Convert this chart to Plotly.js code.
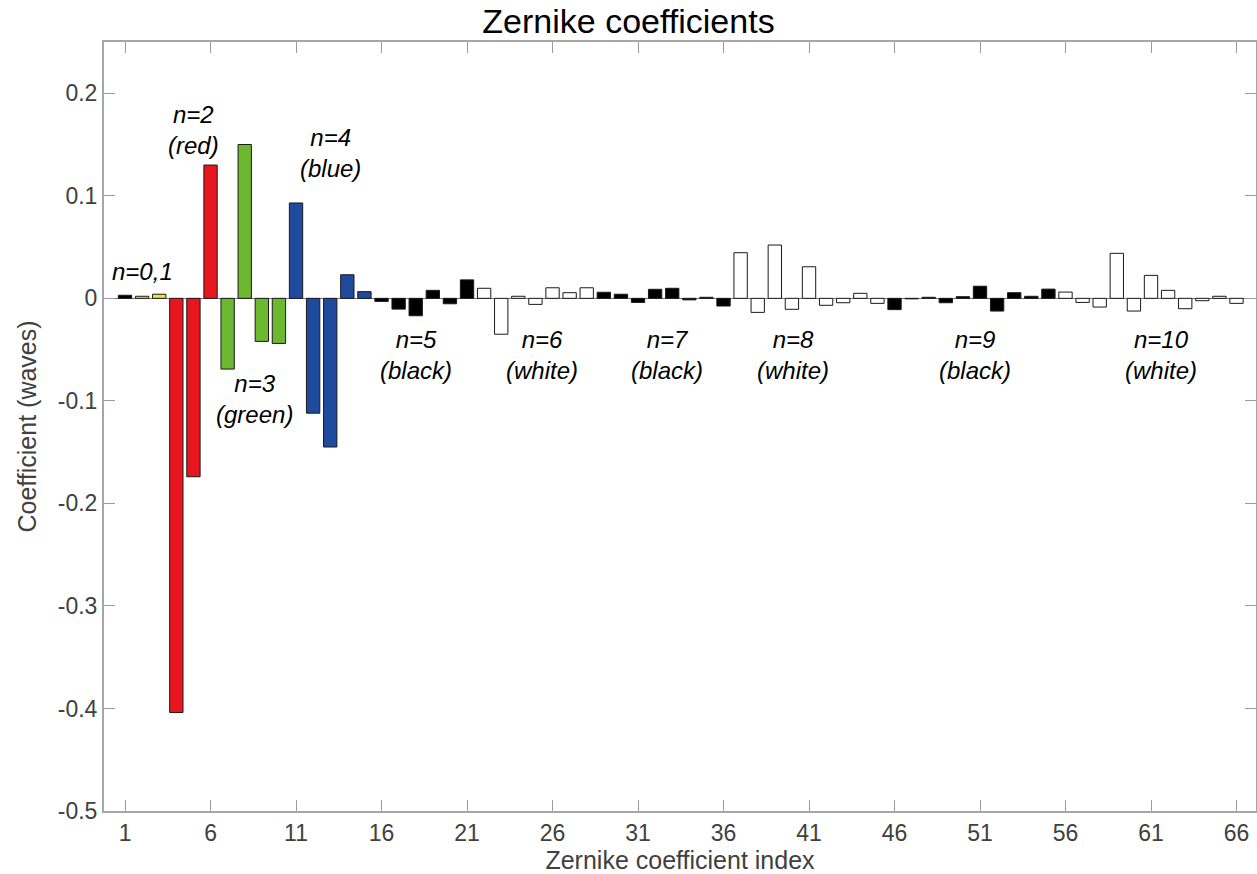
<!DOCTYPE html>
<html>
<head>
<meta charset="utf-8">
<script src="https://cdn.plot.ly/plotly-3.0.1.min.js"></script>
<style>
  html, body { margin: 0; padding: 0; background: #ffffff; }
  #chart { width: 1257px; height: 874px; }
</style>
</head>
<body>
<div id="chart"></div>
<script>
// Zernike coefficient index (Noll-style single index, 1..66)
const indices = Array.from({length: 66}, (_, i) => i + 1);

// Coefficient values in waves, one per index
const coefficients = [
   0.003,  0.002,  0.004, -0.404, -0.174,  0.130, -0.069,  0.150, -0.042, -0.044,
   0.093, -0.112, -0.145,  0.023,  0.0065, -0.003, -0.0105, -0.017,  0.0078, -0.0053,
   0.018,  0.0098, -0.035,  0.002, -0.0059,  0.0103,  0.0055,  0.0103,  0.0059,  0.004,
  -0.004,  0.0088,  0.0098, -0.0015,  0.001, -0.0075,  0.0445, -0.0137,  0.052, -0.0107,
   0.0308, -0.0068, -0.0043,  0.0049, -0.0049, -0.011, -0.0005,  0.001, -0.0043,  0.0016,
   0.0118, -0.0124,  0.0055,  0.002,  0.009,  0.0061, -0.004, -0.0085,  0.0439, -0.0124,
   0.0224,  0.0078, -0.0101, -0.0023,  0.002, -0.0049
];

// Fill colour for each radial order n = 0..10
const orderColors = [
  '#000000', // n=0
  '#ece43c', // n=1
  '#e8161e', // n=2
  '#6cb82e', // n=3
  '#1f4a9e', // n=4
  '#000000', // n=5
  '#ffffff', // n=6
  '#000000', // n=7
  '#ffffff', // n=8
  '#000000', // n=9
  '#ffffff'  // n=10
];

// Tick positions on the index axis
const xTicks = [1, 6, 11, 16, 21, 26, 31, 36, 41, 46, 51, 56, 61, 66];
const yTicks = [-0.5, -0.4, -0.3, -0.2, -0.1, 0, 0.1, 0.2];
const yTickText = ['-0.5', '-0.4', '-0.3', '-0.2', '-0.1', '0', '0.1', '0.2'];

// Group labels for each radial order
const groupLabels = [
  'n=0,1', 'n=2<br>(red)', 'n=3<br>(green)', 'n=4<br>(blue)', 'n=5<br>(black)',
  'n=6<br>(white)', 'n=7<br>(black)', 'n=8<br>(white)', 'n=9<br>(black)', 'n=10<br>(white)'
];
const groupLabelX = [2.05, 4.98, 8.6, 12.99, 18.0, 25.4, 32.7, 40.06, 50.7, 61.6];
const groupLabelY = [0.0265, 0.164, -0.098, 0.1417, -0.0553, -0.0553, -0.0553, -0.0553, -0.0553, -0.0553];

// Radial order of a single index j: terms with order n run from n(n+1)/2+1 to (n+1)(n+2)/2
function radialOrder(j) {
  let n = 0;
  while ((n + 1) * (n + 2) / 2 < j) n++;
  return n;
}
const barColors = indices.map(j => orderColors[radialOrder(j)]);

const font = 'Liberation Sans, Arial, Helvetica, sans-serif';
const gray = '#404040';

const trace = {
  type: 'bar',
  x: indices,
  y: coefficients,
  width: 0.78,
  marker: {
    color: barColors,
    line: { color: '#1a1a1a', width: 1 }
  },
  hoverinfo: 'x+y'
};

const annotations = groupLabels.map((t, i) => ({
  text: t,
  x: groupLabelX[i],
  y: groupLabelY[i],
  xref: 'x',
  yref: 'y',
  showarrow: false,
  font: { family: font, size: 24, color: '#000000', style: 'italic' },
  align: 'center'
}));

const layout = {
  width: 1257,
  height: 874,
  margin: { l: 104, r: 1, t: 42, b: 63, pad: 0 },
  paper_bgcolor: '#ffffff',
  plot_bgcolor: '#ffffff',
  showlegend: false,
  bargap: 0,
  title: {
    text: 'Zernike coefficients',
    font: { family: font, size: 34, color: '#000000' },
    x: 0.5,
    xanchor: 'center',
    y: 0.976,
    yanchor: 'middle'
  },
  xaxis: {
    range: [-0.23, 67.14],
    tickmode: 'array',
    tickvals: xTicks,
    ticktext: xTicks.map(String),
    ticks: 'inside',
    ticklen: 11,
    tickwidth: 1,
    tickcolor: '#9a9a9a',
    showline: true,
    linecolor: '#a6a6a6',
    linewidth: 2,
    mirror: 'ticks',
    showgrid: false,
    zeroline: false,
    tickfont: { family: font, size: 23, color: gray },
    title: {
      text: 'Zernike coefficient index',
      font: { family: font, size: 25, color: gray },
      standoff: 1
    }
  },
  yaxis: {
    range: [-0.5, 0.25],
    tickmode: 'array',
    tickvals: yTicks,
    ticktext: yTickText,
    ticks: 'inside',
    ticklen: 11,
    tickwidth: 1,
    tickcolor: '#9a9a9a',
    showline: true,
    linecolor: '#a6a6a6',
    linewidth: 2,
    mirror: 'ticks',
    showgrid: false,
    zeroline: true,
    zerolinecolor: '#707070',
    zerolinewidth: 1,
    tickfont: { family: font, size: 23, color: gray },
    title: {
      text: 'Coefficient (waves)',
      font: { family: font, size: 25, color: gray },
      standoff: 14
    }
  },
  annotations: annotations
};

Plotly.newPlot('chart', [trace], layout, { displayModeBar: false, staticPlot: true });
</script>
</body>
</html>
